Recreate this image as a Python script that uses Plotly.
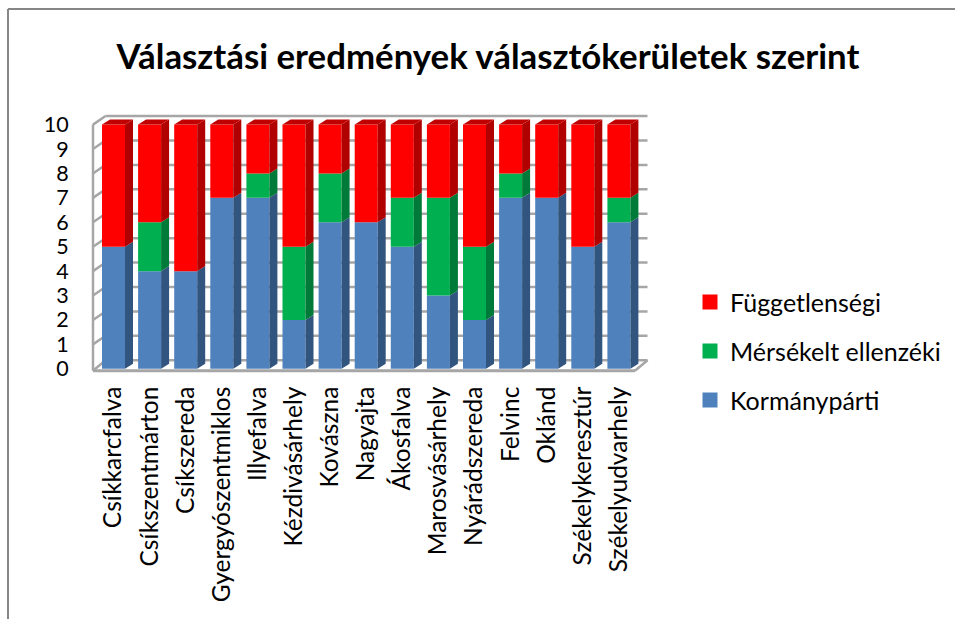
# plot.py
import plotly.graph_objects as go

varosok = ["Csíkkarcfalva", "Csíkszentmárton", "Csíkszereda", "Gyergyószentmiklos", "Illyefalva",
           "Kézdivásárhely", "Kovászna", "Nagyajta", "Ákosfalva", "Marosvásárhely", "Nyárádszereda",
           "Felvinc", "Oklánd", "Székelykeresztúr", "Székelyudvarhely"]
kormanyparti = [5, 4, 4, 7, 7, 2, 6, 6, 5, 3, 2, 7, 7, 5, 6]
mersekelt = [0, 2, 0, 0, 1, 3, 2, 0, 2, 4, 3, 1, 0, 0, 1]
fuggetlensegi = [5, 4, 6, 3, 2, 5, 2, 4, 3, 3, 5, 2, 3, 5, 3]
y_ticks = list(range(0, 11))

W, H = 955, 619
FONT = "Lato"
GREY = "#a6a6a6"
PAPER_TOP, PAPER_H = 2, 609  # zone "paper" mesurée sur le rendu
px_x = lambda p: p / W
px_y = lambda p: 1 - (p - PAPER_TOP) / PAPER_H

# pixel -> data (x: 113.5 + 36.1*i, y: 368 - 24.3*v)
PX, PY = 36.1, 24.3
x_px = lambda p: (p - 113.5) / PX
y_px = lambda p: (368 - p) / PY

BAR_W = 23 / PX
DX, DY = 8 / PX, 5 / PY  # profondeur des barres
WALL_DX, WALL_DY = 12.5 / PX, 8.5 / PY  # profondeur du mur

L, R, T, B = 90, 652, 113, 374

fig = go.Figure()

series = [("Kormánypárti", kormanyparti, "#4f81bd", "#31557f"),
          ("Mérsékelt ellenzéki", mersekelt, "#00b050", "#007a38"),
          ("Függetlenségi", fuggetlensegi, "#ff0000", "#b00000")]

xs = list(range(len(varosok)))
base = [0] * len(varosok)
for nom, vals, col, dark in series:
    fig.add_trace(go.Bar(x=xs, y=vals, base=base, width=BAR_W, name=nom, marker=dict(color=col, line=dict(width=0)),
                         showlegend=False, hoverinfo="skip"))
    # face de côté
    sx, sy = [], []
    for i, (b, v) in enumerate(zip(base, vals)):
        if v == 0:
            continue
        r = i + BAR_W / 2
        sx += [r, r + DX, r + DX, r, r, None]
        sy += [b, b + DY, b + v + DY, b + v, b, None]
    fig.add_trace(go.Scatter(x=sx, y=sy, mode="lines", fill="toself", fillcolor=dark, line=dict(width=0),
                             showlegend=False, hoverinfo="skip"))
    base = [b + v for b, v in zip(base, vals)]

# face du dessus
tx, ty = [], []
for i, t in enumerate(base):
    l, r = i - BAR_W / 2, i + BAR_W / 2
    tx += [l, r, r + DX, l + DX, l, None]
    ty += [t, t, t + DY, t + DY, t, None]
fig.add_trace(go.Scatter(x=tx, y=ty, mode="lines", fill="toself", fillcolor="#c00000", line=dict(width=0),
                         showlegend=False, hoverinfo="skip"))

# entrées de légende (carrés de 15 px), Függetlenségi en premier
for nom, vals, col, dark in reversed(series):
    fig.add_trace(go.Scatter(x=[None], y=[None], mode="markers", name=nom, legendgroup=nom,
                             marker=dict(symbol="square", size=15, color=col)))

# mur et sol
x0, x1 = x_px(93), x_px(635)
floor = y_px(370)
shapes = []


def seg(xa, ya, xb, yb, width=2.5):
    shapes.append(dict(type="line", xref="x", yref="y", x0=xa, y0=ya, x1=xb, y1=yb, layer="below",
                       line=dict(color=GREY, width=width)))


for v in y_ticks:
    yf = v if v else floor
    seg(x0, yf, x0 + WALL_DX, v + WALL_DY)
    seg(x0 + WALL_DX, v + WALL_DY, x1 + WALL_DX, v + WALL_DY)
seg(x0, floor, x0, 10)
seg(x0, floor, x1, floor, 3)
seg(x1, floor, x1 + WALL_DX, WALL_DY)

# cadre de l'image
for xa, ya, xb, yb in [(8, 10, 955, 10), (8, 10, 8, 619)]:
    shapes.append(dict(type="line", xref="paper", yref="paper", x0=px_x(xa), x1=px_x(xb), y0=px_y(ya), y1=px_y(yb),
                       line=dict(color="#868686", width=2)))

fig.update_layout(
    width=W, height=H, margin=dict(l=0, r=0, t=0, b=0), autosize=False,
    paper_bgcolor="white", plot_bgcolor="white", barmode="overlay",
    title=dict(text="<b>Választási eredmények választókerületek szerint</b>", x=px_x(488), xanchor="center",
               y=1 - 57 / H, yanchor="middle", font=dict(family=FONT, size=34.8, color="black")),
    font=dict(family=FONT, color="black"),
    shapes=shapes,
    legend=dict(x=px_x(690), xanchor="left", y=px_y(279), yanchor="top", traceorder="grouped",
                tracegroupgap=13.5, font=dict(family=FONT, size=25), bgcolor="rgba(0,0,0,0)"),
    xaxis=dict(domain=[px_x(L), px_x(R)], range=[x_px(L), x_px(R)], tickmode="array", tickvals=xs, ticktext=varosok,
               tickangle=-90, tickfont=dict(family=FONT, size=24.5), showgrid=False, zeroline=False, showline=False,
               ticks="outside", ticklen=1, tickcolor="rgba(0,0,0,0)"),
    yaxis=dict(domain=[px_y(B), px_y(T)], range=[y_px(B), y_px(T)], tickmode="array", tickvals=y_ticks,
               tickfont=dict(family=FONT, size=21.5), showgrid=False, zeroline=False, showline=False,
               ticks="outside", ticklen=16, tickcolor="rgba(0,0,0,0)"),
)

# la page garde sinon une marge de 8 px autour du graphique
fig.write_html("out.html", config=dict(displayModeBar=False), post_script="document.body.style.margin='0';")
